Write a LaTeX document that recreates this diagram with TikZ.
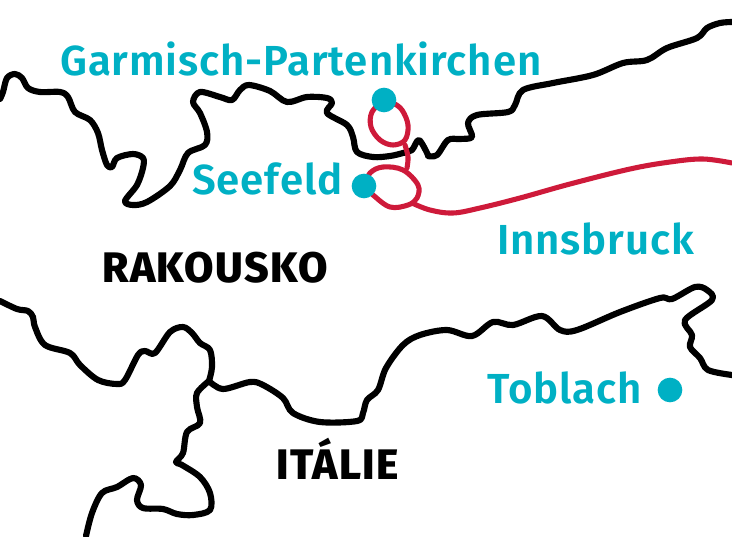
\documentclass[tikz,border=0pt]{standalone}
\usepackage{fontspec}
\setmainfont{Fira Sans}
\newfontfamily\placefont[LetterSpace=2.1]{Fira Sans SemiBold}
\newfontfamily\countryfont[LetterSpace=3.1]{Fira Sans ExtraBold}
\definecolor{placeteal}{HTML}{00B0C4}
\definecolor{routered}{HTML}{CE1A3A}
\tikzset{
  x=0.75pt,y=-0.75pt,
  border/.style={draw=black,line width=4.6pt,line cap=round,line join=round},
  route/.style={draw=routered,line width=3.8pt,line cap=round,line join=round},
  place/.style={circle,fill=placeteal,minimum size=18.5pt,inner sep=0pt},
  placelabel/.style={text=placeteal,font=\fontsize{31.5pt}{33pt}\selectfont\placefont,inner sep=0pt,anchor=base west},
  country/.style={text=black,font=\fontsize{32pt}{34pt}\selectfont\countryfont,inner sep=0pt,anchor=base west}
}
\begin{document}
\begin{tikzpicture}
\useasboundingbox (0,0) rectangle (732,536);
\coordinate (gp) at (384,100);
\coordinate (sf) at (364,186);
% northern border
\draw[border] plot[smooth,tension=0.55] coordinates {(0,99) (3,92) (7,78) (15,74) (22,78) (28,88) (40,92) (60,92) (68,97) (75,112) (90,120) (98,133) (102,150) (107,165) (112,167) (117,158) (133,154) (143,158) (143,168) (137,185) (125,201) (133,205) (147,202) (170,186) (180,170) (188,153) (205,145) (207,132) (200,113) (193,102) (200,92) (220,97) (232,100) (240,90) (249,85) (270,91) (287,102) (307,97) (327,98) (332,103) (327,113) (347,125) (353,137) (357,152) (373,157) (390,156) (403,153) (412,150) (419,140) (428,155)};
\draw[border] plot[smooth,tension=0.55] coordinates {(428,156) (437,155) (448,140) (460,139) (472,137) (468,123) (477,115) (508,112) (515,105) (523,90) (553,83) (593,75) (623,63) (647,60) (667,48) (697,38) (707,28) (720,23) (732,22)};
% southern border
\draw[border] plot[smooth,tension=0.55] coordinates {(0,301) (17,309) (28,311) (33,317) (35,327) (45,345) (70,353) (80,365) (98,380) (117,384) (125,380) (138,355) (145,351) (155,353) (170,332) (183,327) (192,333) (200,343) (210,350) (212,367) (209,381)};
\draw[border] plot[smooth,tension=0.55] coordinates {(209,381) (223,389) (250,382) (263,385) (283,398) (293,413) (320,422) (357,421) (363,413) (367,400) (378,390) (386,368) (403,345) (420,335) (447,330) (472,336) (493,322) (513,325) (542,316) (560,330) (577,330) (620,312) (660,298) (672,299) (695,287) (707,290) (712,300) (685,320) (692,335) (690,347) (700,358) (708,370) (732,375)};
% branch
\draw[border] plot[smooth,tension=0.55] coordinates {(209,381) (197,393) (197,407) (200,423) (187,432) (183,453) (176,462) (182,465) (200,477) (210,493) (210,510) (193,515) (177,514) (163,509) (143,508) (137,500) (141,485) (133,478) (117,487) (102,493) (92,513) (86,536)};
% route
\draw[route] plot[smooth,tension=0.6] coordinates {(gp) (372,112) (371,127) (380,140) (393,145) (405,140) (408,125) (402,110) (393,103) (gp)};
\draw[route] plot[smooth,tension=0.6] coordinates {(405,145) (408,157) (407,168)};
\draw[route] plot[smooth,tension=0.6] coordinates {(sf) (370,173) (383,167) (403,170) (418,185) (417,198) (408,205) (390,207) (373,195) (sf)};
\draw[route] plot[smooth,tension=0.6] coordinates {(412,203) (430,210) (453,213) (480,208) (520,198) (570,184) (630,169) (670,162) (703,159) (732,163)};
% places
\node[place] (garmisch) at (gp) {};
\node[place] (seefeld) at (sf) {};
\node[place] (toblach) at (670,390) {};
% labels
\node[placelabel] (lg) at (60,75) {Garmisch-Partenkirchen};
\node[placelabel] (ls) at (192,194) {Seefeld};
\node[placelabel] (li) at (497,254) {Innsbruck};
\node[placelabel] (lt) at (487,403) {Toblach};
\node[country] (ra) at (102,282) {RAKOUSKO};
\node[country] (it) at (276,479) {ITÁLIE};
\end{tikzpicture}
\end{document}
